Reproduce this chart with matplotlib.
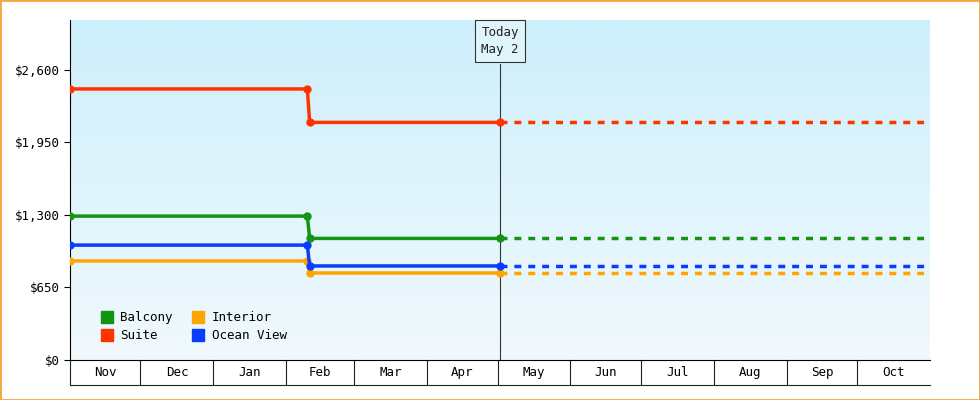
import datetime as dt
import numpy as np
import matplotlib
matplotlib.use("Agg")
import matplotlib.pyplot as plt
import matplotlib.dates as mdates
import matplotlib.transforms as mtrans
from matplotlib.patches import Rectangle
from matplotlib.lines import Line2D

# ─── Data ─────────────────────────────────────────────────────────────────────
series = ["Balcony", "Suite", "Interior", "Ocean View"]
colors = ["#149414", "#ff3300", "#ffa500", "#0a3cff"]
price_before = [1290, 2430, 888, 1030]
price_after = [1090, 2130, 780, 843]
start = dt.date(2023, 11, 1)
change_a = dt.date(2024, 2, 10)
change_b = dt.date(2024, 2, 11)
today = dt.date(2024, 5, 2)
end = dt.date(2024, 10, 31)
month_labels = ["Nov", "Dec", "Jan", "Feb", "Mar", "Apr",
                "May", "Jun", "Jul", "Aug", "Sep", "Oct"]
yticks = [0, 650, 1300, 1950, 2600]

mono = "DejaVu Sans Mono"

fig = plt.figure(figsize=(9.8, 4.0), dpi=100)
fig.patches.append(Rectangle((0, 0), 1, 1, transform=fig.transFigure,
                             fill=False, ec="#f5a640", lw=2))
ax = fig.add_axes([70 / 980, 40 / 400, 860 / 980, 340 / 400])

x0, x1 = mdates.date2num(start), mdates.date2num(end) + 1
ax.set_xlim(x0, x1)
ax.set_ylim(0, 3048)

# gradient background
grad = np.linspace(0, 1, 256).reshape(-1, 1)
cmap = matplotlib.colors.LinearSegmentedColormap.from_list("bg", ["#cdeffb", "#f1f9fd"])
ax.imshow(grad, extent=[0, 1, 0, 1], transform=ax.transAxes, cmap=cmap,
          aspect="auto", zorder=0)

# ─── Series ───────────────────────────────────────────────────────────────────
for name, c, a, b in zip(series, colors, price_before, price_after):
    xs = mdates.date2num([start, change_a, change_b, today])
    ys = [a, a, b, b]
    ax.plot(xs, ys, color=c, lw=2.5, marker="o", ms=5, zorder=3)
    ax.plot(mdates.date2num([today, end]) + [0, 1], [b, b], color=c, lw=2.5,
            ls=(0, (2, 2)), zorder=3)

# today line + box
tn = mdates.date2num(today)
ax.plot([tn, tn], [0, 2650], color="#333333", lw=0.8, zorder=2)
ax.text(tn, 2860, "Today\nMay 2", ha="center", va="center", fontsize=9,
        family=mono, color="#222222", zorder=4, linespacing=1.4,
        bbox=dict(boxstyle="square,pad=0.5", fc="#dff4fb", ec="#333333", lw=0.8))

# ─── Axes styling ─────────────────────────────────────────────────────────────
ax.set_yticks(yticks)
ax.set_yticklabels([f"${v:,}" for v in yticks], family=mono, fontsize=9)
ax.tick_params(axis="y", length=4)
ax.set_xticks([])
for s in ("top", "right"):
    ax.spines[s].set_visible(False)

# month boxes under the axis
trans = mtrans.blended_transform_factory(ax.transData, ax.transAxes)
hb = 25 / 340
edges = [mdates.date2num(dt.date(2023 + (10 + i) // 12, (10 + i) % 12 + 1, 1))
         for i in range(12)] + [x1]
for i, lab in enumerate(month_labels):
    ax.plot([edges[i], edges[i]], [0, -hb], transform=trans, color="#222222",
            lw=0.8, clip_on=False)
    ax.text((edges[i] + edges[i + 1]) / 2, -hb / 2, lab, transform=trans,
            ha="center", va="center", fontsize=9, family=mono)
ax.plot([x0, x1], [-hb, -hb], transform=trans, color="#222222", lw=0.8,
        clip_on=False)

# legend
handles = [Line2D([], [], ls="", marker="s", ms=8, color=c) for c in colors]
ax.legend(handles, series, ncol=2, loc="lower left", frameon=False,
          prop=dict(family=mono, size=9), handletextpad=0.1,
          columnspacing=1.0, labelspacing=0.4, bbox_to_anchor=(0.015, 0.02))

fig.savefig("out.png", dpi=100)
